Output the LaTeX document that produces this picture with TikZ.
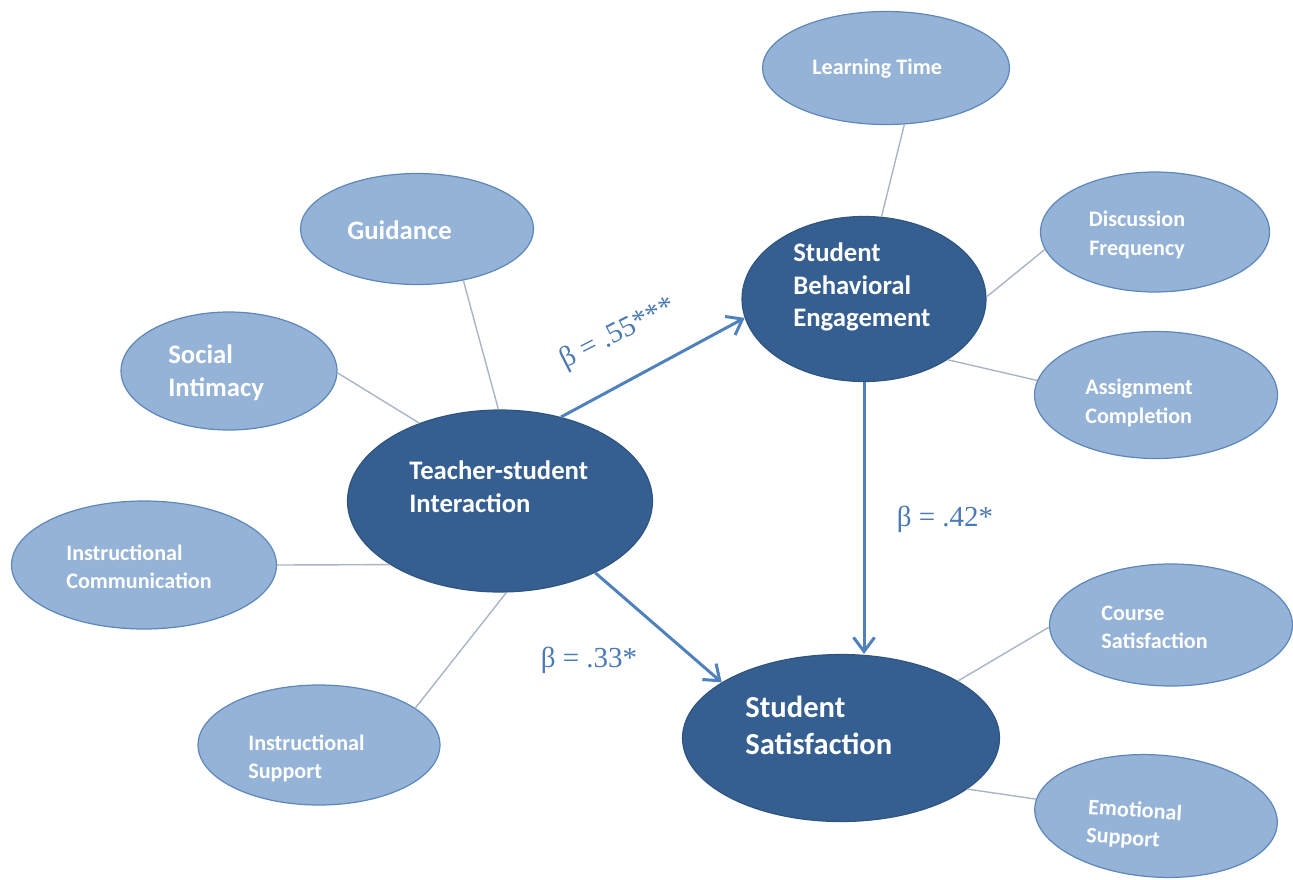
\documentclass[tikz,border=0pt]{standalone}
\usepackage{fontspec}
\setmainfont{Carlito}
\newfontfamily\betafont{Liberation Serif}
\usetikzlibrary{arrows.meta,shapes.geometric}
\definecolor{lightfill}{HTML}{95B3D7}
\definecolor{lightedge}{HTML}{5E88BC}
\definecolor{darkfill}{HTML}{365F91}
\definecolor{darkedge}{HTML}{2E5480}
\definecolor{linkgray}{HTML}{A9B5C6}
\definecolor{arrowblue}{HTML}{4F81BD}
\definecolor{betablue}{HTML}{4A7AB5}
\tikzset{
  lightell/.style={ellipse, draw=lightedge, line width=0.7pt, fill=lightfill, inner sep=0pt},
  darkell/.style={ellipse, draw=darkedge, line width=0.7pt, fill=darkfill, inner sep=0pt},
  smalltxt/.style={text=white, align=left, anchor=west, inner sep=0pt, font=\bfseries\fontsize{12.6}{16}\selectfont},
  bigtxt/.style={text=white, align=left, anchor=west, inner sep=0pt, font=\bfseries\fontsize{15.2}{18.6}\selectfont},
  hugetxt/.style={text=white, align=left, anchor=west, inner sep=0pt, font=\bfseries\fontsize{17.4}{21.2}\selectfont},
  link/.style={draw=linkgray, line width=0.8pt},
  path/.style={draw=arrowblue, line width=1.7pt, -{Straight Barb[length=8pt,width=12pt,line width=1.7pt]}},
  beta/.style={text=betablue, inner sep=0pt, font=\betafont\fontsize{16.5}{18}\selectfont}
}
\begin{document}
\begin{tikzpicture}[x=0.02cm, y=-0.02cm]
\useasboundingbox (0,0) rectangle (1293,879);
% ellipses: size = 2*rx, 2*ry in px (1px = 0.02cm)
\node[lightell, minimum width=4.94cm, minimum height=2.26cm] (lt) at (886,68) {};
\node[darkell, minimum width=4.88cm, minimum height=3.30cm] (sbe) at (864,299) {};
\node[lightell, minimum width=4.58cm, minimum height=2.40cm] (df) at (1155,232) {};
\node[lightell, minimum width=4.86cm, minimum height=2.54cm] (ac) at (1156,395) {};
\node[lightell, minimum width=4.66cm, minimum height=2.22cm] (guid) at (417,229) {};
\node[lightell, minimum width=4.32cm, minimum height=2.36cm] (soc) at (229,371) {};
\node[darkell, minimum width=6.10cm, minimum height=3.64cm] (tsi) at (500,501) {};
\node[lightell, minimum width=5.30cm, minimum height=2.56cm] (ic) at (144,565) {};
\node[lightell, minimum width=4.84cm, minimum height=2.40cm] (is) at (319,745) {};
\node[darkell, minimum width=6.34cm, minimum height=3.34cm] (ss) at (841,738) {};
\node[lightell, minimum width=4.86cm, minimum height=2.44cm] (cs) at (1171,625) {};
\node[lightell, minimum width=4.86cm, minimum height=2.44cm, rotate=-4] (es) at (1156,816) {};
% texts
\node[smalltxt] (ltt) at (812,69) {Learning Time};
\node[bigtxt] (sbet) at (793,287) {Student\\Behavioral\\Engagement};
\node[smalltxt, align=center, anchor=center] (dft) at (1137,235) {Discussion\\Frequency};
\node[smalltxt] (act) at (1085,403) {Assignment\\Completion};
\node[bigtxt] (guidt) at (347,230) {Guidance};
\node[bigtxt] (soct) at (168,373) {Social\\Intimacy};
\node[bigtxt] (tsit) at (409,487) {Teacher-student\\Interaction};
\node[smalltxt] (ict) at (66,567) {Instructional\\Communication};
\node[smalltxt] (ist) at (248,758) {Instructional\\Support};
\node[hugetxt] (sst) at (745,725) {Student\\Satisfaction};
\node[smalltxt] (cst) at (1101,627) {Course\\Satisfaction};
\node[smalltxt, rotate=-4] (est) at (1087,822) {Emotional\\Support};
% indicator links
\draw[link] (guid.-48) -- (tsi.91);
\draw[link] (soc.-1) -- (tsi.136);
\draw[link] (ic.0) -- (tsi.210);
\draw[link] (is.21) -- (tsi.-86);
\draw[link] (lt.-72) -- (sbe.78);
\draw[link] (df.189) -- (sbe.1);
\draw[link] (ac.173) -- (sbe.-36);
\draw[link] (cs.181) -- (ss.26);
\draw[link] (es.176) -- (ss.-22);
% structural paths
\draw[path] (tsi.54) -- (sbe.189);
\draw[path] (tsi.-37) -- (ss.155);
\draw[path] (sbe.south) -- (sbe.south |- ss.north);
% coefficients
\node[beta, rotate=27] (b1) at (618,334) {β = .55***};
\node[beta] (b2) at (945,519) {β = .42*};
\node[beta] (b3) at (589,660) {β = .33*};
\end{tikzpicture}
\end{document}
